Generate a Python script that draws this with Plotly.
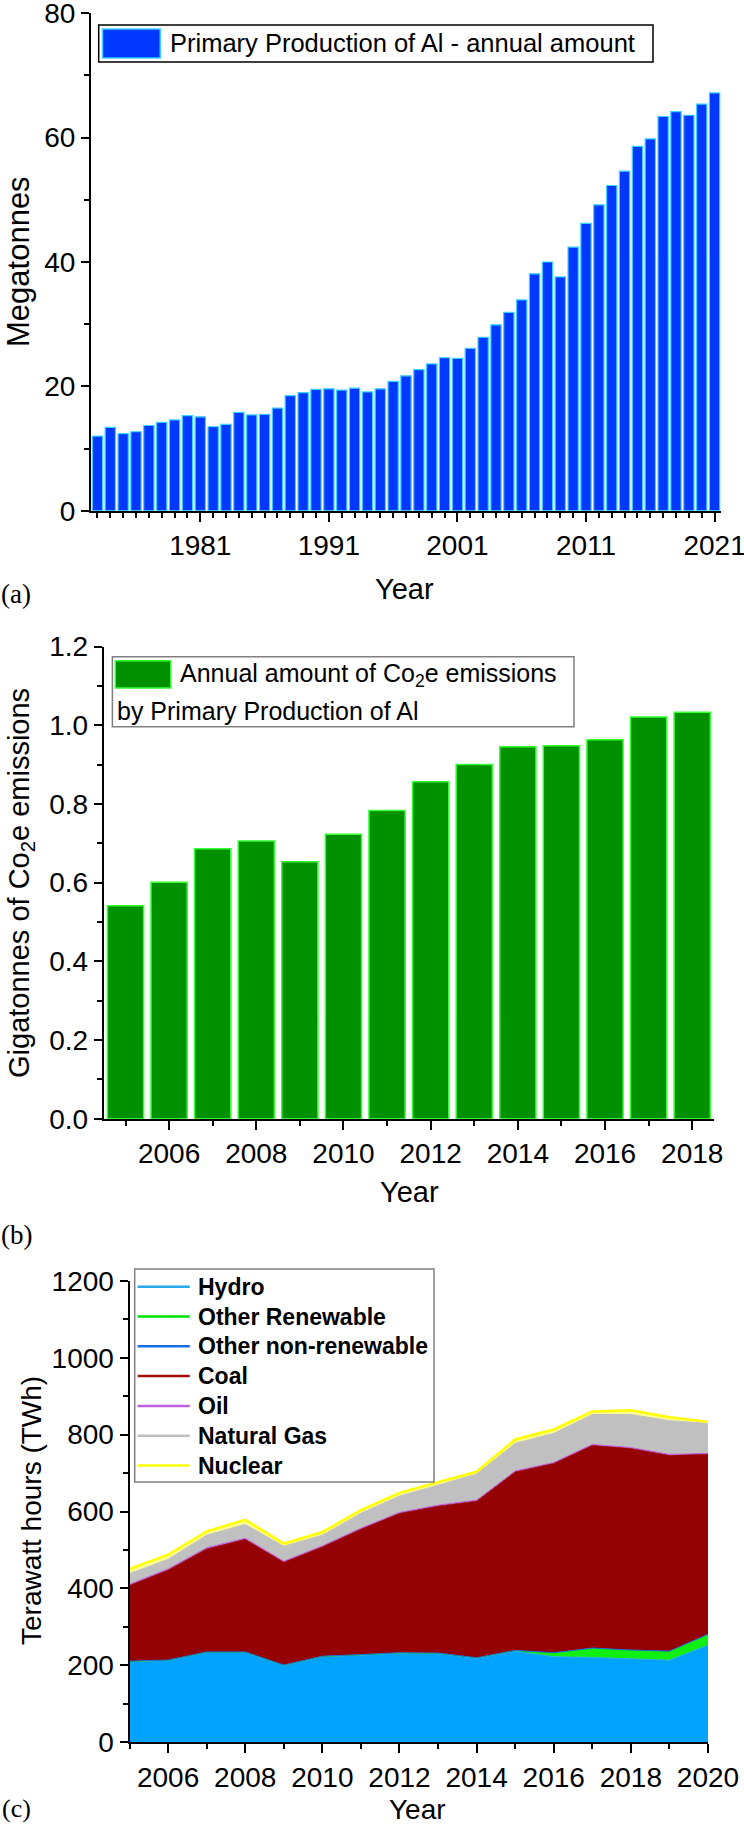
import plotly.graph_objects as go

# ---------------- data ----------------
years_a = list(range(1973, 2022))
production_mt = [12.0, 13.4, 12.4, 12.7, 13.7, 14.2, 14.6, 15.3, 15.1, 13.5,
                 13.9, 15.8, 15.4, 15.5, 16.5, 18.5, 19.0, 19.5, 19.6, 19.4,
                 19.7, 19.1, 19.6, 20.8, 21.7, 22.7, 23.6, 24.6, 24.5, 26.1,
                 27.9, 29.9, 31.9, 33.9, 38.1, 40.0, 37.6, 42.4, 46.2, 49.2,
                 52.3, 54.6, 58.6, 59.8, 63.4, 64.2, 63.6, 65.4, 67.2]

years_b = list(range(2005, 2019))
co2e_gt = [0.541, 0.601, 0.686, 0.706, 0.653, 0.723, 0.783, 0.856, 0.900,
           0.945, 0.948, 0.963, 1.021, 1.033]

years_c = list(range(2005, 2021))
hydro = [209, 212, 233, 233, 199, 222, 226, 231, 230, 218, 236, 222, 220, 216, 213, 252]
other_renewable = [1, 1, 1, 1, 1, 1, 1, 1, 1, 1, 2, 10, 24, 23, 23, 28]
other_nonrenewable = [0.5, 0.5, 0.5, 0.5, 0.5, 0.5, 0.5, 0.5, 0.5, 0.5, 0.5, 0.5, 0.5, 0.5, 0.5, 0.5]
coal = [197, 234, 268, 293, 268, 285, 327, 363, 383, 408, 465, 493, 528, 525, 510, 469]
oil = [3, 3, 3, 3, 2, 2, 2, 2, 2, 2, 2, 2, 2, 2, 2, 2]
natural_gas = [28, 25, 33, 36, 39, 28, 39, 43, 52, 68, 72, 76, 78, 86, 88, 78]
nuclear = [12, 12, 10, 12, 7, 8, 8, 8, 8, 6, 10, 10, 8, 11, 9, 4]

series_c = [
    ("Hydro", hydro, "#00A3FF", "#2AA8EC"),
    ("Other Renewable", other_renewable, "#10F010", "#00E000"),
    ("Other non-renewable", other_nonrenewable, "#1A6FE6", "#1A6FE6"),
    ("Coal", coal, "#950000", "#A01010"),
    ("Oil", oil, "#C060E0", "#C060E0"),
    ("Natural Gas", natural_gas, "#C0C0C0", "#C0C0C0"),
    ("Nuclear", nuclear, "#FFFF90", "#FFFF00"),
]

# ---------------- layout helpers ----------------
W, H = 744, 1828
SANS = "Liberation Sans, Arial, sans-serif"
SERIF = "Liberation Serif, Times New Roman, serif"


def px_x(v):
    return v / W


def px_y(v):
    return 1 - v / H


def xdom(a, b):
    return [a / W, b / W]


def ydom(top, bottom):
    return [1 - bottom / H, 1 - top / H]


fig = go.Figure()

# ---- (a) ----
fig.add_trace(go.Bar(
    x=years_a, y=production_mt, width=0.8,
    marker=dict(color="#0038FF", line=dict(color="#3CD0FF", width=1.2)),
    xaxis="x", yaxis="y", showlegend=False,
    name="Primary Production of Al - annual amount"))

# ---- (b) ----
fig.add_trace(go.Bar(
    x=years_b, y=co2e_gt, width=0.83,
    marker=dict(color="#009000", line=dict(color="#33FF33", width=1.5)),
    xaxis="x2", yaxis="y2", showlegend=False,
    name="Annual amount of Co2e emissions by Primary Production of Al"))

# ---- (c) stacked areas ----
for name, vals, fillc, linec in series_c:
    fig.add_trace(go.Scatter(
        x=years_c, y=vals, mode="lines", stackgroup="one",
        fillcolor=fillc, line=dict(color=linec, width=2.5 if name == "Nuclear" else 1),
        xaxis="x3", yaxis="y3", showlegend=False, name=name))

tickfont = dict(family=SANS, size=28, color="black")
common_axis = dict(showline=True, linecolor="black", linewidth=2, ticks="outside",
                   tickwidth=1.5, tickcolor="black", showgrid=False, zeroline=False,
                   tickfont=tickfont, fixedrange=True, automargin=False,
                   ticklabeloverflow="allow")

fig.update_layout(
    width=W, height=H, autosize=False,
    margin=dict(l=0, r=0, t=0, b=0, autoexpand=False),
    paper_bgcolor="white", plot_bgcolor="white",
    showlegend=False,
    font=dict(family=SANS, color="black"),
    # (a)
    xaxis=dict(domain=xdom(91, 721), anchor="y", range=[1972.5, 2021.5],
               tick0=1981, dtick=10, ticklen=9,
               minor=dict(tick0=1973, dtick=1, ticklen=5, ticks="outside",
                          tickwidth=1.5, tickcolor="black"),
               **common_axis),
    yaxis=dict(domain=ydom(13.3, 510.7), anchor="x", range=[0, 80],
               tick0=0, dtick=20, ticklen=8,
               minor=dict(dtick=10, ticklen=5, ticks="outside",
                          tickwidth=1.5, tickcolor="black"),
               **common_axis),
    # (b)
    xaxis2=dict(domain=xdom(103.7, 714), anchor="y2", range=[2004.5, 2018.5],
                tick0=2006, dtick=2, ticklen=9,
                minor=dict(tick0=2005, dtick=1, ticklen=5, ticks="outside",
                           tickwidth=1.5, tickcolor="black"),
                **common_axis),
    yaxis2=dict(domain=ydom(646.5, 1118.7), anchor="x2", range=[0, 1.2],
                tick0=0, dtick=0.2, tickformat=".1f", ticklen=8,
                minor=dict(dtick=0.1, ticklen=5, ticks="outside",
                           tickwidth=1.5, tickcolor="black"),
                **common_axis),
    # (c)
    xaxis3=dict(domain=xdom(129.5, 708), anchor="y3", range=[2005, 2020],
                tick0=2006, dtick=2, ticklen=9,
                minor=dict(tick0=2005, dtick=1, ticklen=5, ticks="outside",
                           tickwidth=1.5, tickcolor="black"),
                **common_axis),
    yaxis3=dict(domain=ydom(1281, 1742), anchor="x3", range=[0, 1200],
                tick0=0, dtick=200, ticklen=8,
                minor=dict(dtick=100, ticklen=5, ticks="outside",
                           tickwidth=1.5, tickcolor="black"),
                **common_axis),
)

annotations = []
shapes = []


def text(x, y, s, size, family=SANS, angle=0, xanchor="center", bold=False):
    annotations.append(dict(
        x=px_x(x), y=px_y(y), xref="paper", yref="paper", text=s,
        showarrow=False, textangle=angle, xanchor=xanchor, yanchor="middle",
        font=dict(family=family, size=size, color="black",
                  weight="bold" if bold else "normal")))


def rect(x0, y0, x1, y1, fill, line, lw):
    shapes.append(dict(type="rect", xref="paper", yref="paper",
                       x0=px_x(x0), x1=px_x(x1), y0=px_y(y1), y1=px_y(y0),
                       fillcolor=fill, line=dict(color=line, width=lw), layer="above"))


# axis titles and panel labels
text(18, 262, "Megatonnes", 31, angle=-90)
text(405, 589, "Year", 29)
text(16, 594, "(a)", 27, family=SERIF)

text(21, 883, "Gigatonnes of Co<sub>2</sub>e emissions", 29, angle=-90)
text(410, 1192, "Year", 29)
text(16, 1235, "(b)", 27, family=SERIF)

text(31, 1511, "Terawatt hours (TWh)", 28, angle=-90)
text(418, 1809, "Year", 28)
text(16, 1808, "(c)", 26, family=SERIF)

# legend (a)
rect(98.7, 25, 653, 62, "white", "black", 1.5)
rect(102.5, 29, 160.3, 58, "#0038FF", "#3CD0FF", 1.5)
text(168.4, 43, "Primary Production of Al - annual amount", 25.5, xanchor="left")

# legend (b)
rect(112.4, 656.7, 574, 726.7, "white", "#808080", 1.5)
rect(115.3, 660.7, 170.8, 688, "#009000", "#33FF33", 1.5)
text(178, 675, "Annual amount of Co<sub>2</sub>e emissions", 25, xanchor="left")
text(115.3, 711, "by Primary Production of Al", 25, xanchor="left")

# legend (c)
rect(134.7, 1269, 434, 1482, "white", "#808080", 1.5)
for i, (name, vals, fillc, linec) in enumerate(series_c):
    yy = 1286.7 + 29.8 * i
    shapes.append(dict(type="line", xref="paper", yref="paper",
                       x0=px_x(137.6), x1=px_x(189.8), y0=px_y(yy), y1=px_y(yy),
                       line=dict(color=linec, width=2.5), layer="above"))
    text(196, yy, name, 23, xanchor="left", bold=True)

fig.update_layout(annotations=annotations, shapes=shapes)

fig.write_html("out.html", config={"displayModeBar": False},
               post_script="document.body.style.margin='0';document.body.style.overflow='hidden';")
